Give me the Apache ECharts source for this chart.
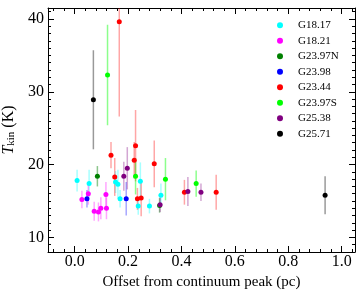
<!DOCTYPE html>
<html>
<head>
<meta charset="utf-8">
<script src="https://cdn.jsdelivr.net/npm/echarts@6/dist/echarts.min.js"></script>
<style>html,body{margin:0;padding:0;background:#fff}#c{width:364px;height:299px}</style>
</head>
<body>
<div id="c"></div>
<script>
// ---- data ----
const seriesNames = ['G18.17','G18.21','G23.97N','G23.98','G23.44','G23.97S','G25.38','G25.71'];
const seriesColors = ['#00ffff','#ff00ff','#008000','#0000ff','#ff0000','#00ff00','#800080','#000000'];
const barColors = ['rgba(0,255,255,0.35)','rgba(255,0,255,0.35)','rgba(0,128,0,0.45)','rgba(0,0,255,0.35)','rgba(255,0,0,0.35)','rgba(0,255,0,0.45)','rgba(128,0,128,0.35)','rgba(0,0,0,0.4)'];

const offG1817 = [0.009, 0.054, 0.153, 0.162, 0.170, 0.238, 0.246, 0.280, 0.323];
const tkG1817  = [17.8, 17.4, 17.6, 17.3, 15.3, 14.3, 17.7, 14.3, 15.8];
const erG1817  = [1.5, 1.9, 1.5, 2.0, 1.2, 1.2, 2.6, 1.0, 1.6];

const offG1821 = [0.027, 0.051, 0.073, 0.089, 0.098, 0.117, 0.119];
const tkG1821  = [15.2, 16.0, 13.6, 13.5, 14.0, 15.9, 14.0];
const erG1821  = [1.2, 1.5, 1.3, 1.3, 1.5, 1.7, 1.5];

const offG2397N = [0.085, 0.318];
const tkG2397N  = [18.4, 14.4];
const erG2397N  = [1.4, 1.0];

const offG2398 = [0.046, 0.193];
const tkG2398  = [15.3, 15.3];
const erG2398  = [1.2, 2.3];

const offG2344 = [0.167, 0.136, 0.150, 0.223, 0.228, 0.235, 0.249, 0.298, 0.411, 0.530];
const tkG2344  = [39.6, 21.3, 18.3, 20.6, 22.6, 15.3, 15.4, 20.1, 16.2, 16.2];
const erG2344  = [13.0, 1.8, 2.6, 2.5, 4.9, 1.5, 2.5, 3.2, 1.7, 2.4];

const offG2397S = [0.123, 0.228, 0.340, 0.455];
const tkG2397S  = [32.3, 18.4, 18.0, 17.4];
const erG2397S  = [6.9, 2.5, 2.9, 1.8];

const offG2538 = [0.184, 0.197, 0.320, 0.424, 0.473];
const tkG2538  = [18.4, 19.5, 14.5, 16.3, 16.2];
const erG2538  = [2.0, 2.9, 1.0, 2.0, 1.2];

const offG2571 = [0.070, 0.938];
const tkG2571  = [28.9, 15.8];
const erG2571  = [6.8, 2.6];

const xTicks = [0.0, 0.2, 0.4, 0.6, 0.8, 1.0];
const xMinorTicks = [-0.08,-0.04,0.04,0.08,0.12,0.16,0.24,0.28,0.32,0.36,0.44,0.48,0.52,0.56,0.64,0.68,0.72,0.76,0.84,0.88,0.92,0.96,1.04];
const yTicks = [10, 20, 30, 40];
const yMinorTicks = [8,9,11,12,13,14,15,16,17,18,19,21,22,23,24,25,26,27,28,29,31,32,33,34,35,36,37,38,39,41];

const groups = [
  [offG1817, tkG1817, erG1817],
  [offG1821, tkG1821, erG1821],
  [offG2397N, tkG2397N, erG2397N],
  [offG2398, tkG2398, erG2398],
  [offG2344, tkG2344, erG2344],
  [offG2397S, tkG2397S, erG2397S],
  [offG2538, tkG2538, erG2538],
  [offG2571, tkG2571, erG2571]
];

// ---- chart ----
const FONT = '"Liberation Serif", "DejaVu Serif", serif';
const XMIN = -0.1, XMAX = 1.05, YMIN = 8, YMAX = 41.5;

function xAx(pos, ticks, len, labels) {
  return {
    type: 'value', position: pos, min: XMIN, max: XMAX,
    axisLine: {show: labels, onZero: false, lineStyle: {color: '#000', width: 1}},
    axisTick: {show: true, inside: true, length: len, customValues: ticks, lineStyle: {color: '#000', width: 1}},
    axisLabel: labels ? {show: true, customValues: ticks, margin: 2, color: '#000', fontFamily: FONT, fontSize: 16,
      formatter: v => v.toFixed(1)} : {show: false},
    splitLine: {show: false}
  };
}
function yAx(pos, ticks, len, labels) {
  return {
    type: 'value', position: pos, min: YMIN, max: YMAX,
    axisLine: {show: labels, onZero: false, lineStyle: {color: '#000', width: 1}},
    axisTick: {show: true, inside: true, length: len, customValues: ticks, lineStyle: {color: '#000', width: 1}},
    axisLabel: labels ? {show: true, customValues: ticks, margin: 4, color: '#000', fontFamily: FONT, fontSize: 16} : {show: false},
    splitLine: {show: false}
  };
}

const xAxes = [xAx('bottom', xTicks, 6, true), xAx('bottom', xMinorTicks, 3, false), xAx('top', xTicks, 6, true), xAx('top', xMinorTicks, 3, false)];
xAxes[2].axisLabel = {show: false};
xAxes[0].name = 'Offset from continuum peak (pc)';
xAxes[0].nameLocation = 'middle';
xAxes[0].nameGap = 14;
xAxes[0].nameTextStyle = {color: '#000', fontFamily: FONT, fontSize: 15, verticalAlign: 'top'};

const yAxes = [yAx('left', yTicks, 6, true), yAx('left', yMinorTicks, 3, false), yAx('right', yTicks, 6, true), yAx('right', yMinorTicks, 3, false)];
yAxes[2].axisLabel = {show: false};
yAxes[0].name = '{t|T}{s|kin}{n| (K)}';
yAxes[0].nameLocation = 'middle';
yAxes[0].nameGap = 26;
yAxes[0].nameTextStyle = {
  color: '#000', fontFamily: FONT, fontSize: 16,
  rich: {
    t: {fontFamily: FONT, fontSize: 16, fontStyle: 'italic', color: '#000', verticalAlign: 'bottom'},
    s: {fontFamily: FONT, fontSize: 11, color: '#000', padding: [6, 0, 0, 0], verticalAlign: 'bottom'},
    n: {fontFamily: FONT, fontSize: 16, color: '#000', verticalAlign: 'bottom'}
  }
};

const series = [];
groups.forEach((g, i) => {
  const data = g[0].map((x, k) => [x, g[1][k], g[2][k]]);
  series.push({
    name: seriesNames[i] + ' err', type: 'custom', clip: true, z: 1,
    itemStyle: {color: barColors[i]},
    data: data,
    encode: {x: 0, y: 1},
    renderItem: function (params, api) {
      const x = api.value(0), y = api.value(1), e = api.value(2);
      const a = api.coord([x, y - e]), b = api.coord([x, y + e]);
      return {type: 'line', shape: {x1: a[0], y1: a[1], x2: b[0], y2: b[1]},
        style: {stroke: barColors[i], lineWidth: 1.5}};
    }
  });
});
groups.forEach((g, i) => {
  const data = g[0].map((x, k) => [x, g[1][k]]);
  series.push({
    name: seriesNames[i], type: 'scatter', z: 3, symbol: 'circle', symbolSize: 5,
    itemStyle: {color: seriesColors[i], opacity: 1},
    data: data
  });
});

const chart = echarts.init(document.getElementById('c'), null, {renderer: 'canvas'});
chart.setOption({
  animation: false,
  backgroundColor: '#fff',
  grid: {left: 48, right: 9, top: 8, bottom: 47, containLabel: false, outerBoundsMode: 'none'},
  legend: {
    orient: 'vertical', left: 272, top: 14, itemGap: 3,
    itemWidth: 26, itemHeight: 6, icon: 'circle', symbolKeepAspect: true,
    data: seriesNames,
    textStyle: {color: '#000', fontFamily: FONT, fontSize: 11, lineHeight: 12.5}
  },
  xAxis: xAxes,
  yAxis: yAxes,
  series: series
});
</script>
</body>
</html>
